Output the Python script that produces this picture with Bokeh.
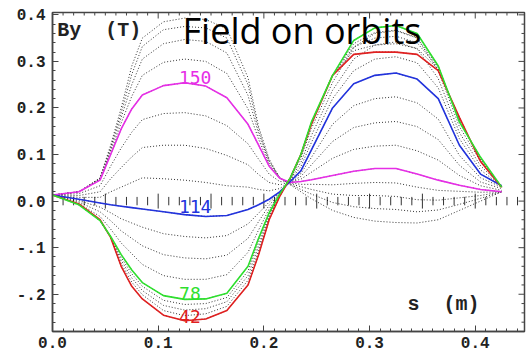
import numpy as np
from bokeh.plotting import figure
from bokeh.models import Range1d, FixedTicker, LinearAxis, Label
from bokeh.core.properties import value
from bokeh.embed import file_html
from bokeh.resources import INLINE

# ---------------- data ----------------
s_m = [0.0, 0.025, 0.045, 0.055, 0.065, 0.075, 0.085, 0.105, 0.125, 0.145, 0.165,
       0.185, 0.195, 0.205, 0.215, 0.225, 0.235, 0.245, 0.265, 0.285, 0.305, 0.325,
       0.345, 0.365, 0.385, 0.405, 0.425]

by_42 = [0.013, -0.006, -0.040, -0.078, -0.140, -0.183, -0.210, -0.245, -0.257, -0.253, -0.235, -0.180, -0.115, -0.040, 0.010, 0.050, 0.100, 0.165, 0.270, 0.315, 0.320, 0.320, 0.315, 0.280, 0.180, 0.085, 0.030]
by_51 = [0.013, -0.007, -0.041, -0.078, -0.134, -0.174, -0.201, -0.235, -0.246, -0.242, -0.226, -0.170, -0.106, -0.036, 0.011, 0.050, 0.100, 0.167, 0.270, 0.323, 0.335, 0.338, 0.328, 0.283, 0.178, 0.087, 0.030]
by_60 = [0.013, -0.007, -0.042, -0.077, -0.127, -0.165, -0.192, -0.224, -0.234, -0.231, -0.216, -0.160, -0.097, -0.032, 0.012, 0.050, 0.100, 0.168, 0.270, 0.331, 0.350, 0.354, 0.340, 0.286, 0.175, 0.090, 0.030]
by_69 = [0.013, -0.008, -0.042, -0.077, -0.121, -0.156, -0.183, -0.213, -0.222, -0.220, -0.207, -0.150, -0.088, -0.028, 0.014, 0.050, 0.100, 0.169, 0.270, 0.338, 0.362, 0.367, 0.351, 0.288, 0.172, 0.092, 0.030]
by_78 = [0.013, -0.008, -0.042, -0.076, -0.115, -0.148, -0.175, -0.203, -0.211, -0.210, -0.198, -0.140, -0.080, -0.025, 0.015, 0.050, 0.100, 0.170, 0.270, 0.345, 0.372, 0.377, 0.360, 0.290, 0.170, 0.094, 0.030]
by_87 = [0.013, -0.005, -0.033, -0.060, -0.090, -0.113, -0.136, -0.160, -0.168, -0.168, -0.158, -0.110, -0.062, -0.017, 0.016, 0.048, 0.092, 0.156, 0.255, 0.330, 0.360, 0.366, 0.350, 0.280, 0.160, 0.085, 0.031]
by_96 = [0.013, -0.002, -0.023, -0.042, -0.064, -0.080, -0.096, -0.115, -0.122, -0.124, -0.116, -0.080, -0.044, -0.009, 0.017, 0.046, 0.083, 0.141, 0.238, 0.305, 0.335, 0.342, 0.327, 0.263, 0.147, 0.076, 0.032]
by_105 = [0.013, 0.001, -0.013, -0.025, -0.038, -0.047, -0.056, -0.070, -0.076, -0.079, -0.074, -0.049, -0.026, -0.002, 0.018, 0.044, 0.074, 0.126, 0.220, 0.280, 0.305, 0.310, 0.297, 0.243, 0.134, 0.067, 0.032]
by_114 = [0.013, 0.004, -0.004, -0.008, -0.011, -0.014, -0.017, -0.023, -0.029, -0.033, -0.031, -0.018, -0.008, 0.004, 0.020, 0.042, 0.065, 0.110, 0.200, 0.252, 0.270, 0.275, 0.262, 0.220, 0.120, 0.058, 0.033]
by_123 = [0.013, 0.008, 0.008, 0.020, 0.030, 0.040, 0.050, 0.048, 0.045, 0.040, 0.033, 0.030, 0.025, 0.022, 0.027, 0.042, 0.059, 0.094, 0.165, 0.205, 0.220, 0.224, 0.211, 0.176, 0.098, 0.050, 0.030]
by_132 = [0.013, 0.012, 0.020, 0.048, 0.072, 0.095, 0.115, 0.120, 0.120, 0.113, 0.098, 0.078, 0.057, 0.040, 0.035, 0.041, 0.053, 0.078, 0.128, 0.158, 0.168, 0.171, 0.160, 0.132, 0.077, 0.041, 0.027]
by_141 = [0.013, 0.016, 0.033, 0.075, 0.114, 0.148, 0.175, 0.188, 0.190, 0.183, 0.162, 0.123, 0.090, 0.058, 0.042, 0.041, 0.047, 0.062, 0.092, 0.111, 0.118, 0.120, 0.108, 0.088, 0.055, 0.033, 0.023]
by_150 = [0.013, 0.020, 0.045, 0.100, 0.155, 0.198, 0.228, 0.248, 0.254, 0.247, 0.222, 0.165, 0.120, 0.075, 0.049, 0.040, 0.042, 0.046, 0.055, 0.064, 0.070, 0.070, 0.058, 0.045, 0.034, 0.025, 0.020]
by_159 = [0.013, 0.020, 0.047, 0.105, 0.168, 0.225, 0.270, 0.298, 0.305, 0.300, 0.274, 0.198, 0.133, 0.079, 0.049, 0.039, 0.036, 0.036, 0.035, 0.038, 0.040, 0.039, 0.030, 0.023, 0.021, 0.019, 0.020]
by_168 = [0.013, 0.020, 0.048, 0.110, 0.180, 0.250, 0.305, 0.338, 0.347, 0.343, 0.318, 0.227, 0.144, 0.083, 0.050, 0.037, 0.031, 0.025, 0.015, 0.012, 0.012, 0.010, 0.003, 0.002, 0.007, 0.012, 0.020]
by_177 = [0.013, 0.020, 0.049, 0.115, 0.190, 0.272, 0.332, 0.368, 0.375, 0.372, 0.350, 0.250, 0.153, 0.087, 0.050, 0.036, 0.025, 0.015, -0.003, -0.012, -0.016, -0.018, -0.023, -0.019, -0.007, 0.006, 0.020]
by_186 = [0.013, 0.020, 0.050, 0.120, 0.200, 0.290, 0.350, 0.385, 0.393, 0.390, 0.370, 0.265, 0.160, 0.090, 0.050, 0.035, 0.020, 0.005, -0.020, -0.035, -0.043, -0.046, -0.047, -0.040, -0.020, 0.000, 0.020]

dotted_orbits = [by_42, by_51, by_60, by_69, by_78, by_87, by_96, by_105, by_114,
                 by_123, by_132, by_141, by_150, by_159, by_168, by_177, by_186]

labelled_names = ["150", "114", "42", "78"]
labelled_curves = [by_150, by_114, by_42, by_78]
labelled_colors = ["#e62ee6", "#2233dd", "#e02020", "#2ee02e"]
label_s = [0.135, 0.135, 0.130, 0.130]
label_by = [0.266, -0.012, -0.248, -0.199]

x_ticks = [0.0, 0.1, 0.2, 0.3, 0.4]
x_tick_labels = ["0.0", "0.1", "0.2", "0.3", "0.4"]
y_ticks = [-0.2, -0.1, 0.0, 0.1, 0.2, 0.3, 0.4]
y_tick_labels = ["-.2", "-.1", "0.0", "0.1", "0.2", "0.3", "0.4"]

# ---------------- figure ----------------
X0, X1 = 0.0, 0.4466
Y0, Y1 = -0.280, 0.405
p = figure(width=530, height=358, output_backend="svg", toolbar_location=None,
           x_range=Range1d(X0, X1), y_range=Range1d(Y0, Y1),
           min_border_left=52, min_border_right=6, min_border_top=12,
           min_border_bottom=27, x_axis_location=None, y_axis_location=None)
p.grid.visible = False
p.outline_line_color = "#444444"
p.outline_line_width = 1.5
p.background_fill_color = "white"
p.border_fill_color = "white"

x_minor = [round(i * 0.01, 3) for i in range(0, 45)]
y_minor = [round(-0.28 + i * 0.02, 3) for i in range(0, 35)]


def make_axis(ticks, minor, labels, standoff):
    ax = LinearAxis(ticker=FixedTicker(ticks=ticks, minor_ticks=minor))
    ax.axis_line_color = "#444444"
    ax.axis_line_width = 1.5
    ax.major_tick_in = 6
    ax.major_tick_out = 0
    ax.minor_tick_in = 3
    ax.minor_tick_out = 0
    ax.major_tick_line_color = "#444444"
    ax.minor_tick_line_color = "#444444"
    ax.major_label_overrides = {t: l for t, l in zip(ticks, labels)}
    ax.major_label_text_font = "Liberation Mono"
    ax.major_label_text_font_style = "bold"
    ax.major_label_text_font_size = "16px"
    ax.major_label_text_color = "#222222"
    ax.major_label_standoff = standoff
    return ax


p.add_layout(make_axis(x_ticks, x_minor, x_tick_labels, 5), "below")
p.add_layout(make_axis(y_ticks, y_minor, y_tick_labels, 7), "left")

# inward ticks on the top and right frame edges (no labels there)
px_x = (X1 - X0) / 472.0
px_y = (Y1 - Y0) / 318.5
top_len = np.array([6 * px_y if any(abs(t - m) < 1e-9 for m in x_ticks) else 3 * px_y for t in x_minor])
p.segment(x0=x_minor, y0=[Y1] * len(x_minor), x1=x_minor, y1=Y1 - top_len,
          line_color="#444444", line_width=1)
right_len = np.array([6 * px_x if any(abs(t - m) < 1e-9 for m in y_ticks) else 3 * px_x for t in y_minor])
p.segment(x0=[X1] * len(y_minor), y0=y_minor, x1=X1 - right_len, y1=y_minor,
          line_color="#444444", line_width=1)

# tick row along By = 0
zero_ticks_s = np.round(np.arange(0.01, 0.445, 0.01), 3)
tick_half = np.where(np.isclose(zero_ticks_s * 20, np.round(zero_ticks_s * 20)), 0.016, 0.009)
p.segment(x0=zero_ticks_s, y0=-tick_half, x1=zero_ticks_s, y1=tick_half,
          line_color="#333333", line_width=1)

# dotted family of orbits
for curve in dotted_orbits:
    p.line(s_m, curve, line_color="#111111", line_alpha=0.85, line_width=1,
           line_dash="1 2")

# highlighted orbits
for curve, col in zip(labelled_curves, labelled_colors):
    p.line(s_m, curve, line_color=col, line_width=1.6)

p.text(x=label_s, y=label_by, text=labelled_names,
       text_color=labelled_colors, text_font=value("DejaVu Sans Mono"),
       text_font_size="18px", text_align="center", text_baseline="middle")

p.add_layout(Label(x=0.0045, y=0.341, text="By\u00a0\u00a0(T)", text_font="Liberation Mono",
                   text_font_style="bold", text_font_size="20px", text_color="#222222"))
p.add_layout(Label(x=0.336, y=-0.246, text="s\u00a0\u00a0(m)", text_font="Liberation Mono",
                   text_font_style="bold", text_font_size="20px", text_color="#222222"))
p.add_layout(Label(x=0.123, y=0.313, text="Field on orbits", text_font="Open Sans",
                   text_font_size="36px", text_color="black"))

open("out.html", "w").write(file_html(p, INLINE))
